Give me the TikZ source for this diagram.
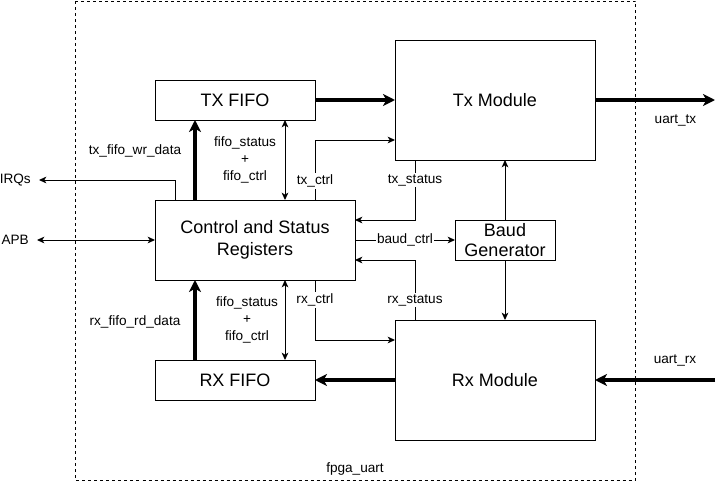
\documentclass[tikz,border=0pt]{standalone}
\usepackage{fontspec}
\setmainfont{Liberation Sans}
\usetikzlibrary{arrows.meta}
\begin{document}
\begin{tikzpicture}[x=0.75pt,y=-0.75pt,
  blk/.style={draw,line width=0.75pt,inner sep=0pt,outer sep=0pt,align=center,
    font=\fontsize{13.5}{16}\selectfont},
  lbl/.style={inner sep=0.5pt,align=center,font=\fontsize{10.2}{12.8}\selectfont},
  onl/.style={lbl,fill=white,inner sep=1pt},
  thin/.style={line width=0.75pt,-{Stealth[length=5.5pt,width=5pt,inset=1.5pt]}},
  thinboth/.style={line width=0.75pt,{Stealth[length=5.5pt,width=5pt,inset=1.5pt]}-{Stealth[length=5.5pt,width=5pt,inset=1.5pt]}},
  thickarr/.style={line width=2.4pt,-{Stealth[length=9pt,width=9pt,inset=2.5pt]}},
  border/.style={line width=0.75pt,dash pattern=on 2.25pt off 2.25pt}]
\useasboundingbox (0,0) rectangle (726,482);
\draw[border] (75.5,1) rectangle (635.5,480);
% blocks
\node[blk,minimum width=120pt,minimum height=30pt] (txf) at (235,100) {TX FIFO};
\node[blk,minimum width=150pt,minimum height=60pt] (csr) at (255,240) {Control and Status\\Registers};
\node[blk,minimum width=120pt,minimum height=30pt] (rxf) at (235,380) {RX FIFO};
\node[blk,minimum width=150pt,minimum height=90pt] (txm) at (495,100) {Tx Module};
\node[blk,minimum width=150pt,minimum height=90pt] (rxm) at (495,380) {Rx Module};
\node[blk,minimum width=75pt,minimum height=30pt,font=\fontsize{13.5}{15.5}\selectfont] (baud) at (505,240) {Baud\\Generator};
% external ends
\node[lbl,anchor=east,inner xsep=6pt] (irq) at (39,180) {IRQs};
\node[lbl,anchor=east,inner xsep=6pt] (apb) at (37,240) {APB};
\coordinate (uarttx) at (715,100);
\coordinate (uartrx) at (715,380);
% thick data paths
\draw[thickarr] (txf.east) -- (txm.west);
\draw[thickarr] (txm.east) -- (uarttx);
\draw[thickarr] (uartrx) -- (rxm.east);
\draw[thickarr] (rxm.west) -- (rxf.east);
\draw[thickarr] ([xshift=30pt]csr.north west) -- ([xshift=30pt]txf.south west);
\draw[thickarr] ([xshift=30pt]rxf.north west) -- ([xshift=30pt]csr.south west);
% thin connectors
\draw[thin] ([xshift=15pt]csr.north west) |- (irq.east);
\draw[thinboth] (apb.east) -- (csr.west);
\draw[thinboth] ([xshift=97.5pt]txf.south west) -- ([xshift=97.5pt]csr.north west);
\draw[thinboth] ([xshift=97.5pt]csr.south west) -- ([xshift=97.5pt]rxf.north west);
\draw[thin] ([xshift=120pt]csr.north west) |- ([yshift=-30pt]txm.west);
\draw[thin] ([xshift=15pt]txm.south west) |- ([yshift=15pt]csr.east);
\draw[thin] (csr.east) -- (baud.west);
\draw[thin] (baud.north) -- (baud.north |- txm.south);
\draw[thin] (baud.south) -- (baud.south |- rxm.north);
\draw[thin] ([xshift=15pt]rxm.north west) |- ([yshift=-15pt]csr.east);
\draw[thin] ([xshift=120pt]csr.south west) |- ([yshift=30pt]rxm.west);
% labels
\node[lbl] (l1) at (135,151) {tx\_fifo\_wr\_data};
\node[lbl] (l2) at (245,160) {fifo\_status\\+\\fifo\_ctrl};
\node[onl] (l3) at (315,181) {tx\_ctrl};
\node[onl] (l4) at (415,180) {tx\_status};
\node[onl] (l5) at (405,240) {baud\_ctrl};
\node[onl] (l6) at (415,300) {rx\_status};
\node[onl] (l7) at (315,300) {rx\_ctrl};
\node[lbl] (l8) at (247,320) {fifo\_status\\+\\fifo\_ctrl};
\node[lbl] (l9) at (135,322) {rx\_fifo\_rd\_data};
\node[lbl] (l10) at (675.5,120) {uart\_tx};
\node[lbl] (l11) at (675,360) {uart\_rx};
\node[lbl] (l12) at (355,469) {fpga\_uart};
\end{tikzpicture}
\end{document}
